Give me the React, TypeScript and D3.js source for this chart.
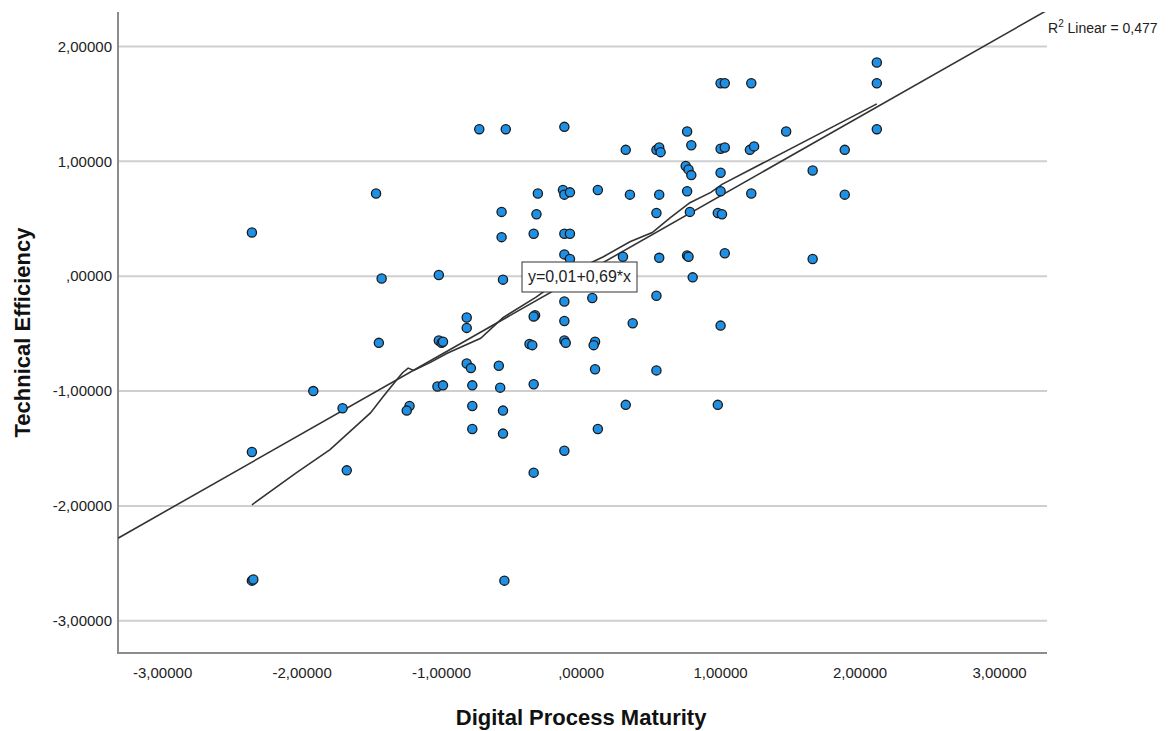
import React from "react";
import * as d3 from "d3";

// Scatter data (Digital Process Maturity, Technical Efficiency)
const maturity = [
  2.12, 2.12, 2.12, 1.0, 1.03, 1.22, 1.47, 1.0, 1.03, 1.21, 1.24, 1.89, 1.0, 1.66, 1.0, 1.22, 1.89, 0.98,
  1.01, 1.03, 1.66, 1.0, 0.98,
  -0.73, -0.54, -0.12, 0.32, 0.54, 0.56, 0.57, 0.76, 0.79, 0.75, 0.77, 0.79, -0.31, -0.13, -0.12, -0.08,
  0.12, 0.35, 0.56, 0.76, -0.57, -0.32, 0.54, 0.78, -0.57, -0.34, -0.12, -0.08, -0.12, -0.08, 0.3, 0.56,
  0.76, 0.77, -0.56, 0.8, -0.12, 0.08, 0.54, -0.33, -0.34, -0.12, 0.37, -0.82, -0.82,
  -1.47, -2.36, -1.43, -1.02,
  -0.37, -0.35, -0.12, -0.11, 0.1, 0.09, -0.82, -0.79, -0.59, 0.1, 0.54, -0.78, -0.58, -0.34, -0.78, -0.56,
  0.32, -0.78, -0.56, 0.12, -0.12, -0.34, -0.55,
  -1.45, -1.02, -1.0, -0.99, -1.92, -1.71, -1.23, -1.25, -1.03, -0.99, -2.36, -1.68, -2.36, -2.35,
];
const efficiency = [
  1.86, 1.68, 1.28, 1.68, 1.68, 1.68, 1.26, 1.11, 1.12, 1.1, 1.13, 1.1, 0.9, 0.92, 0.74, 0.72, 0.71, 0.55,
  0.54, 0.2, 0.15, -0.43, -1.12,
  1.28, 1.28, 1.3, 1.1, 1.1, 1.12, 1.08, 1.26, 1.14, 0.96, 0.93, 0.88, 0.72, 0.75, 0.71, 0.73,
  0.75, 0.71, 0.71, 0.74, 0.56, 0.54, 0.55, 0.56, 0.34, 0.37, 0.37, 0.37, 0.19, 0.15, 0.17, 0.16,
  0.18, 0.17, -0.03, -0.01, -0.22, -0.19, -0.17, -0.34, -0.35, -0.39, -0.41, -0.36, -0.45,
  0.72, 0.38, -0.02, 0.01,
  -0.59, -0.6, -0.56, -0.58, -0.57, -0.6, -0.76, -0.8, -0.78, -0.81, -0.82, -0.95, -0.97, -0.94, -1.13, -1.17,
  -1.12, -1.33, -1.37, -1.33, -1.52, -1.71, -2.65,
  -0.58, -0.56, -0.58, -0.57, -1.0, -1.15, -1.13, -1.17, -0.96, -0.95, -1.53, -1.69, -2.65, -2.64,
];

// Loess fit line
const loessX = [
  -2.36, -2.04, -1.8, -1.51, -1.42, -1.32, -1.28, -1.24, -1.2, -1.08, -0.96, -0.72, -0.56, -0.32, -0.08,
  0.16, 0.35, 0.51, 0.64, 0.78, 0.93, 1.01, 2.12,
];
const loessY = [
  -1.99, -1.71, -1.51, -1.19, -1.05, -0.9, -0.84, -0.8, -0.82, -0.75, -0.67, -0.54, -0.36, -0.18, 0.03,
  0.17, 0.3, 0.38, 0.51, 0.64, 0.73, 0.8, 1.5,
];

// Linear fit
const intercept = 0.01;
const slope = 0.69;
const rSquared = "0,477";

const xTicks = [-3, -2, -1, 0, 1, 2, 3];
const yTicks = [2, 1, 0, -1, -2, -3];

const width = 1176;
const height = 731;
const plot = { left: 118, right: 1047, top: 12, bottom: 653 };

const fmt = (d: number) => {
  const s = Math.abs(d).toFixed(5).replace(".", ",").replace(/^0/, "");
  return (d < 0 ? "-" : "") + s;
};

export default function App() {
  const x = d3.scaleLinear().domain([-3.32, 3.34]).range([plot.left, plot.right]);
  const y = d3.scaleLinear().domain([-3.28, 2.3]).range([plot.bottom, plot.top]);

  const points = maturity.map((m, i) => ({ x: m, y: efficiency[i] }));
  const loess = loessX.map((lx, i) => [lx, loessY[i]] as [number, number]);

  const line = d3
    .line<[number, number]>()
    .x((d) => x(d[0]))
    .y((d) => y(d[1]));

  const [x0, x1] = x.domain();
  const fit: [number, number][] = [
    [x0, intercept + slope * x0],
    [x1, intercept + slope * x1],
  ];

  const font = "'Liberation Sans', Arial, sans-serif";

  return (
    <svg
      width={width}
      height={height}
      style={{ position: "absolute", left: 0, top: 0, background: "#fff" }}
      fontFamily={font}
    >
      <defs>
        <clipPath id="plotClip">
          <rect x={plot.left} y={plot.top} width={plot.right - plot.left} height={plot.bottom - plot.top} />
        </clipPath>
      </defs>

      {/* gridlines */}
      {yTicks.map((t) => (
        <line key={"g" + t} x1={plot.left} x2={plot.right} y1={y(t)} y2={y(t)} stroke="#cfcfcf" strokeWidth={2} />
      ))}

      {/* axes */}
      <path
        d={`M${plot.left},${plot.top}V${plot.bottom}H${plot.right}`}
        fill="none"
        stroke="#8c8c8c"
        strokeWidth={2}
      />

      {/* tick labels */}
      {yTicks.map((t) => (
        <text key={"y" + t} x={112} y={y(t)} dy="0.35em" textAnchor="end" fontSize={15} fill="#222">
          {fmt(t)}
        </text>
      ))}
      {xTicks.map((t) => (
        <text key={"x" + t} x={x(t)} y={678} textAnchor="middle" fontSize={15} fill="#222">
          {fmt(t)}
        </text>
      ))}

      {/* axis titles */}
      <text x={x(0)} y={725} textAnchor="middle" fontSize={22} fontWeight="bold" fill="#111">
        Digital Process Maturity
      </text>
      <text
        transform={`translate(30,${(plot.top + plot.bottom) / 2}) rotate(-90)`}
        textAnchor="middle"
        fontSize={22}
        fontWeight="bold"
        fill="#111"
      >
        Technical Efficiency
      </text>

      {/* fit lines */}
      <g clipPath="url(#plotClip)">
        <path d={line(fit) || ""} fill="none" stroke="#333" strokeWidth={1.6} />
        <path d={line(loess) || ""} fill="none" stroke="#333" strokeWidth={1.6} />
      </g>

      {/* points */}
      {points.map((p, i) => (
        <circle key={i} cx={x(p.x)} cy={y(p.y)} r={4.6} fill="#1e90e6" stroke="#1a1a1a" strokeWidth={1.3} />
      ))}

      {/* equation label */}
      <rect x={522} y={262} width={115} height={30} fill="#fff" stroke="#333" strokeWidth={1} />
      <text x={579.5} y={282} textAnchor="middle" fontSize={16} fill="#222">
        y=0,01+0,69*x
      </text>

      {/* R squared */}
      <text x={1048} y={33} fontSize={14} fill="#222">
        R<tspan dy={-6} fontSize={10}>2</tspan>
        <tspan dy={6}> Linear = {rSquared}</tspan>
      </text>
    </svg>
  );
}
